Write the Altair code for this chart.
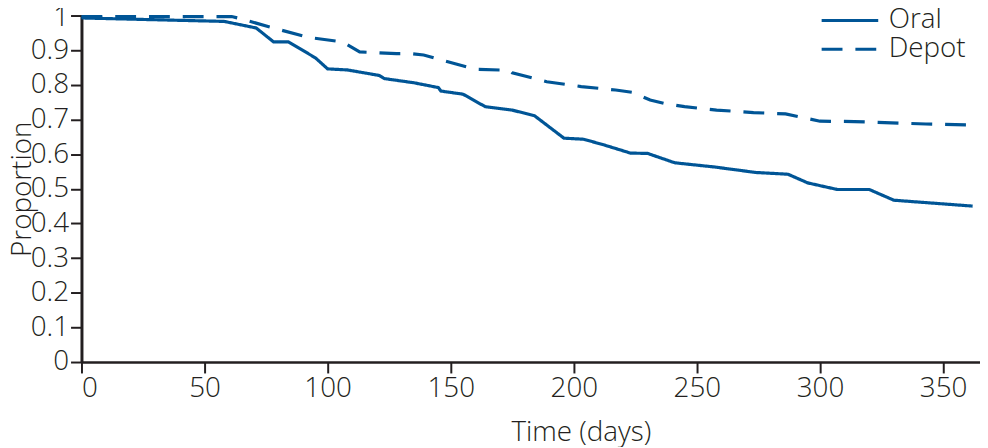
import altair as alt
import pandas as pd

oral_days = [0, 58, 71, 78, 84, 95, 100, 108, 121, 123, 135, 145, 146, 155, 164, 175, 184, 196, 204, 213, 223, 230, 241, 257, 274, 287, 295, 307, 320, 330, 362]
oral_prop = [0.993, 0.983, 0.964, 0.924, 0.924, 0.878, 0.846, 0.843, 0.827, 0.818, 0.806, 0.792, 0.782, 0.773, 0.737, 0.727, 0.711, 0.646, 0.643, 0.625, 0.603, 0.602, 0.575, 0.563, 0.547, 0.542, 0.517, 0.498, 0.498, 0.467, 0.450]

depot_days = [0, 61, 64, 78, 92, 106, 113, 128, 134, 139, 147, 160, 174, 175, 189, 203, 217, 224, 231, 237, 245, 258, 273, 286, 300, 314, 343, 362]
depot_prop = [0.997, 0.997, 0.992, 0.964, 0.937, 0.924, 0.895, 0.890, 0.890, 0.886, 0.870, 0.845, 0.842, 0.835, 0.809, 0.795, 0.785, 0.778, 0.756, 0.746, 0.737, 0.727, 0.720, 0.716, 0.695, 0.694, 0.687, 0.684]

groups = ["Oral", "Depot"]

df = pd.concat([
    pd.DataFrame({"days": oral_days, "prop": oral_prop, "group": "Oral"}),
    pd.DataFrame({"days": depot_days, "prop": depot_prop, "group": "Depot"}),
])

FONT = "Open Sans"
TXT = "#231f20"
BLUE = "#005596"

chart = alt.Chart(df).mark_line(strokeWidth=3.2, color=BLUE).encode(
    x=alt.X("days:Q", scale=alt.Scale(domain=[0, 365], nice=False),
            axis=alt.Axis(values=[0, 50, 100, 150, 200, 250, 300, 350], title="Time (days)",
                          titleX=503, titleY=57)),
    y=alt.Y("prop:Q", scale=alt.Scale(domain=[0, 1], nice=False),
            axis=alt.Axis(values=[i / 10 for i in range(11)], format=".1~f", title="Proportion",
                          domainWidth=3, titleX=-51, titleBaseline="alphabetic",
                          labelOffset={"condition": {"test": "datum.value == 1", "value": 2}, "value": 0})),
    strokeDash=alt.StrokeDash("group:N", scale=alt.Scale(domain=groups, range=[[1, 0], [21, 13]]),
                              legend=alt.Legend(title=None, orient="none", legendX=760, legendY=-9,
                                                symbolType="M-3,0H3", symbolSize=361,
                                                symbolStrokeWidth=3.2, symbolStrokeColor=BLUE,
                                                labelFontSize=28, labelFont=FONT, labelFontWeight=300,
                                                labelColor=TXT, rowPadding=1, labelOffset=25)),
).properties(
    width=905, height=349,
    autosize=alt.AutoSizeParams(type="none"),
    padding={"left": 74, "top": 6, "right": 0, "bottom": 84},
).configure_view(stroke=None).configure_axis(
    grid=False, domainColor=TXT, tickColor=TXT, tickWidth=2, tickSize=11, domainWidth=2.5,
    labelFont=FONT, labelFontWeight=300, labelFontSize=28, labelColor=TXT, labelPadding=2,
    titleFont=FONT, titleFontWeight=300, titleFontSize=28, titleColor=TXT,
)

chart.save("out.html", embed_options={"renderer": "svg", "actions": False})
